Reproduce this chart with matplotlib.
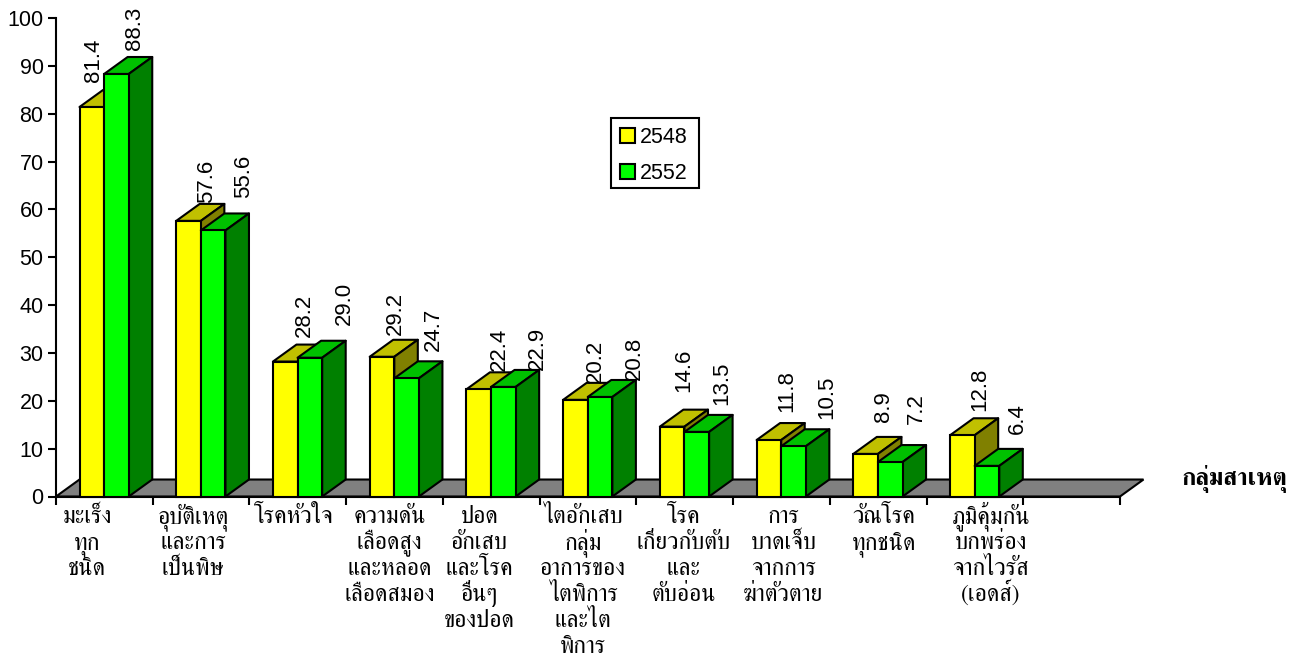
#!/usr/bin/env python3
import matplotlib as mpl
mpl.use('Agg')
import matplotlib.pyplot as plt
from matplotlib.patches import Polygon, Rectangle

categories = ['มะเร็ง\nทุก\nชนิด', 'อุบัติเหตุ\nและการ\nเป็นพิษ', 'โรคหัวใจ',
              'ความดัน\nเลือดสูง\nและหลอด\nเลือดสมอง',
              'ปอด\nอักเสบ\nและโรค\nอื่นๆ\nของปอด',
              'ไตอักเสบ\nกลุ่ม\nอาการของ\nไตพิการ\nและไต\nพิการ',
              'โรค\nเกี่ยวกับตับ\nและ\nตับอ่อน',
              'การ\nบาดเจ็บ\nจากการ\nฆ่าตัวตาย',
              'วัณโรค\nทุกชนิด',
              'ภูมิคุ้มกัน\nบกพร่อง\nจากไวรัส\n(เอดส์)']
y2548 = [81.4, 57.6, 28.2, 29.2, 22.4, 20.2, 14.6, 11.8, 8.9, 12.8]
y2552 = [88.3, 55.6, 29.0, 24.7, 22.9, 20.8, 13.5, 10.5, 7.2, 6.4]

plt.rcParams['font.family'] = ['Liberation Sans', 'DejaVu Sans']
THAI = ['FreeSerif', 'DejaVu Sans']
LW = 1.5
BAR_W = 0.2545
GAP = 0.243
DX, DY = 0.243, 3.55

# hand placed label nudges, pixels
lab_dx = [[0, 16, 17, 11, 19, 18, 10, 16, 16, 15], [16, 28, 32, 25, 32, 32, 23, 31, 24, 28]]
lab_dy = [[8, 1, 8, 5, 1, 0, 18, 11, 15, 7], [7, 15, 16, 10, 0, 0, 10, 10, 21, 15]]
cat_dx = [-17, -8, -4, -5, -12, -5, -1, 2, 6, 16]

fig = plt.figure(figsize=(13.02, 6.58), dpi=100, facecolor='w')
ax = fig.add_axes([56/1302, 1-496.5/658, (1120-56)/1302, (496.5-18)/658])
ax.set_xlim(0, 11)
ax.set_ylim(0, 100)
for s in ['top', 'right']:
    ax.spines[s].set_visible(False)
for s in ['left', 'bottom']:
    ax.spines[s].set_linewidth(LW)
ax.set_xticks(range(12))
ax.set_xticklabels([])
ax.set_yticks(range(0, 101, 10))
ax.tick_params(axis='y', length=6, width=LW, labelsize=15.5, pad=3)
ax.tick_params(axis='x', length=5.5, width=LW)

ax.add_patch(Polygon([(0, 0), (11, 0), (11+DX, DY), (DX, DY)], closed=True, fc='#808080',
                     ec='k', lw=LW, zorder=1, clip_on=False))

series = [('2548', y2548, '#FFFF00', '#C0C000', '#808000'),
          ('2552', y2552, '#00FF00', '#00C000', '#008000')]
handles = []
for j, (name, vals, front, top, side) in enumerate(series):
    z = 3 + 2*j
    xs = [i + GAP + j*BAR_W for i in range(len(vals))]
    bars = ax.bar(xs, vals, BAR_W, align='edge', color=front, edgecolor='k', linewidth=LW,
                  zorder=z+1, clip_on=False, label=name)
    handles.append(bars)
    for i, (x, v) in enumerate(zip(xs, vals)):
        ax.add_patch(Polygon([(x, v), (x+BAR_W, v), (x+BAR_W+DX, v+DY), (x+DX, v+DY)], closed=True,
                             fc=top, ec='k', lw=LW, zorder=z, clip_on=False, joinstyle='round'))
        ax.add_patch(Polygon([(x+BAR_W, 0), (x+BAR_W+DX, DY), (x+BAR_W+DX, v+DY), (x+BAR_W, v)], closed=True,
                             fc=side, ec='k', lw=LW, zorder=z, clip_on=False, joinstyle='round'))
        ax.annotate('%.1f' % v, xy=(x+BAR_W/2, v+DY), xytext=(lab_dx[j][i]+2, lab_dy[j][i]),
                    textcoords='offset pixels', rotation=90, ha='center', va='bottom',
                    fontsize=16, zorder=10, annotation_clip=False)

# category labels, one line at a time so the pitch stays even
for i, c in enumerate(categories):
    for k, line in enumerate(c.split('\n')):
        ax.annotate(line, xy=(i+0.5, 0), xytext=(cat_dx[i], -26.5-26*k), textcoords='offset pixels',
                    ha='center', va='baseline', fontsize=17, annotation_clip=False,
                    family=THAI, xycoords=('data', 'axes fraction'))

fig.text(1234/1302, 1-485/658, 'กลุ่มสาเหตุ', ha='center', va='baseline', fontsize=17.5, fontweight='bold',
         family=THAI)

# legend box drawn apart, the frame of fig.legend comes out too tall
fig.add_artist(Rectangle((611/1302, 1-188/658), 88/1302, 70/658, transform=fig.transFigure,
                         fc='w', ec='k', lw=LW, zorder=1))
leg = fig.legend(handles=handles, loc='upper left', bbox_to_anchor=(611/1302, 1-118/658),
                 fontsize=15.5, frameon=False,
                 handlelength=0.7, handleheight=0.7, handletextpad=0.25, labelspacing=0.72,
                 borderpad=0.4, borderaxespad=0)

plt.savefig('out.png', dpi=100)
